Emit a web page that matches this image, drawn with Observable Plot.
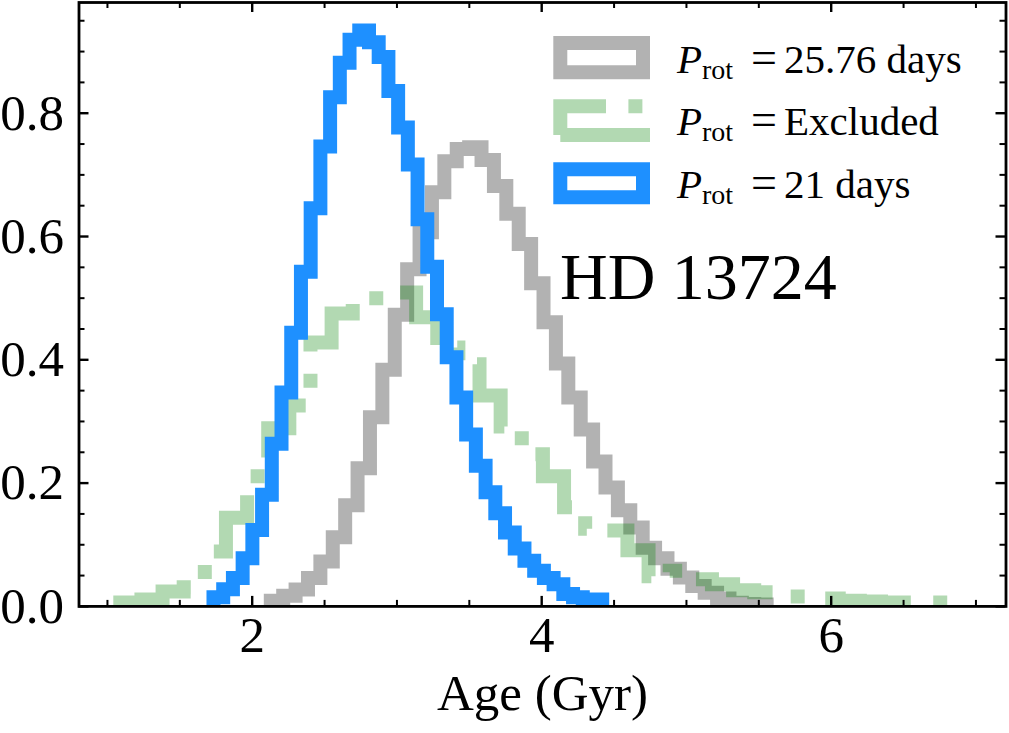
<!DOCTYPE html>
<html>
<head>
<meta charset="utf-8">
<script src="https://cdn.jsdelivr.net/npm/d3@7"></script>
<script src="https://cdn.jsdelivr.net/npm/@observablehq/plot@0.6"></script>
<style>
  html, body { margin: 0; padding: 0; background: white; }
  #wrap { position: relative; width: 1009px; height: 733px; }
  #overlay { position: absolute; left: 0; top: 0; pointer-events: none; }
  #overlay text { font-family: 'Liberation Serif', serif; fill: black; }
</style>
</head>
<body>
<div id="wrap"></div>
<script>
// ---- Data (density histograms, 40 bins each) ----
const seriesNames = ["P_rot = 25.76 days", "P_rot = Excluded", "P_rot = 21 days"];

// histogram ranges [min, max] in Gyr
const grayRange = [2.1285, 5.5541];
const greenRange = [1.0888, 6.928];
const blueRange = [1.7326, 4.418];

const grayHeights = [0.0092, 0.0174, 0.0276, 0.046, 0.073, 0.112, 0.164, 0.224, 0.307, 0.384,
  0.473, 0.547, 0.607, 0.672, 0.722, 0.742, 0.745, 0.724, 0.682, 0.637,
  0.588, 0.524, 0.461, 0.394, 0.339, 0.287, 0.235, 0.193, 0.156, 0.128,
  0.095, 0.078, 0.061, 0.047, 0.033, 0.022, 0.013, 0.006, 0.004, 0.003];

const greenHeights = [0.0065, 0.011, 0.024, 0.031, 0.089, 0.144, 0.211, 0.289, 0.326, 0.428,
  0.475, 0.50, 0.50, 0.509, 0.469, 0.42, 0.393, 0.342, 0.292, 0.247,
  0.211, 0.161, 0.126, 0.123, 0.091, 0.049, 0.058, 0.044, 0.036, 0.026,
  0.023, 0.016, 0.016, 0.013, 0.0092, 0.0081, 0.0065, 0.0065, 0.0065, 0.0065];

const blueHeights = [0.015, 0.028, 0.046, 0.078, 0.124, 0.181, 0.264, 0.347, 0.444, 0.543,
  0.646, 0.746, 0.826, 0.882, 0.919, 0.934, 0.915, 0.891, 0.836, 0.777,
  0.717, 0.628, 0.551, 0.474, 0.404, 0.339, 0.279, 0.228, 0.185, 0.151,
  0.120, 0.094, 0.074, 0.058, 0.046, 0.036, 0.020, 0.015, 0.011, 0.011];

// axis ticks
const xMajorTicks = [2, 4, 6];
const xMinorTicks = [1, 1.5, 2.5, 3, 3.5, 4.5, 5, 5.5, 6.5, 7];
const yMajorTicks = [0, 0.2, 0.4, 0.6, 0.8];
const yMinorTicks = [0.05, 0.1, 0.15, 0.25, 0.3, 0.35, 0.45, 0.5, 0.55, 0.65, 0.7, 0.75, 0.85, 0.9, 0.95];
const xLabel = "Age (Gyr)";
const starName = "HD 13724";

// ---- step outline of a histogram (matplotlib histtype='step') ----
function stepPoints(range, heights) {
  const n = heights.length, w = (range[1] - range[0]) / n;
  const pts = [{x: range[0], y: 0}];
  heights.forEach((h, i) => {
    pts.push({x: range[0] + i * w, y: h});
    pts.push({x: range[0] + (i + 1) * w, y: h});
  });
  pts.push({x: range[1], y: 0});
  return pts;
}

const W = 1009, H = 733;
const mL = 78.5, mR = 3.5, mT = 2, mB = 127.1;
const frameW = W - mL - mR, frameH = H - mT - mB;
const LW = 14;
const dashDot = `${6.4 * LW},${1.6 * LW},${LW},${1.6 * LW}`;
const common = {x: "x", y: "y", strokeWidth: LW, strokeLinejoin: "miter", strokeMiterlimit: 4, strokeLinecap: "butt", clip: true};

const chart = Plot.plot({
  width: W, height: H,
  marginLeft: mL, marginRight: mR, marginTop: mT, marginBottom: mB,
  style: {fontFamily: "'Liberation Serif', serif", fontSize: "51px", background: "white", color: "black", overflow: "visible"},
  x: {domain: [0.8035, 7.2076], ticks: xMajorTicks, tickFormat: d => String(d), tickSize: 0, tickPadding: 9, label: null},
  y: {domain: [0, 0.9796], ticks: yMajorTicks, tickFormat: d => d.toFixed(1), tickSize: 0, tickPadding: 15, label: null},
  marks: [
    Plot.line(stepPoints(grayRange, grayHeights), {...common, stroke: "black", strokeOpacity: 0.3}),
    Plot.line(stepPoints(greenRange, greenHeights), {...common, stroke: "green", strokeOpacity: 0.3, strokeDasharray: dashDot}),
    Plot.line(stepPoints(blueRange, blueHeights), {...common, stroke: "dodgerblue"}),
    // inward ticks on all four sides
    Plot.ruleX(xMajorTicks, {x: d => d, insetTop: frameH - 10, stroke: "black", strokeWidth: 2.4}),
    Plot.ruleX(xMinorTicks, {x: d => d, insetTop: frameH - 6, stroke: "black", strokeWidth: 2}),
    Plot.ruleX(xMajorTicks, {x: d => d, insetBottom: frameH - 10, stroke: "black", strokeWidth: 2.4}),
    Plot.ruleX(xMinorTicks, {x: d => d, insetBottom: frameH - 6, stroke: "black", strokeWidth: 2}),
    Plot.ruleY(yMajorTicks, {y: d => d, insetRight: frameW - 10, stroke: "black", strokeWidth: 2.4}),
    Plot.ruleY(yMinorTicks, {y: d => d, insetRight: frameW - 6, stroke: "black", strokeWidth: 2}),
    Plot.ruleY(yMajorTicks, {y: d => d, insetLeft: frameW - 10, stroke: "black", strokeWidth: 2.4}),
    Plot.ruleY(yMinorTicks, {y: d => d, insetLeft: frameW - 6, stroke: "black", strokeWidth: 2}),
    Plot.frame({stroke: "black", strokeWidth: 2.8}),
    Plot.text([xLabel], {frameAnchor: "bottom", dy: 104, fontSize: 51, fill: "black"})
  ]
});
document.getElementById("wrap").appendChild(chart);

// ---- legend and star name (overlay) ----
const ns = "http://www.w3.org/2000/svg";
const ov = document.createElementNS(ns, "svg");
ov.setAttribute("id", "overlay");
ov.setAttribute("width", W);
ov.setAttribute("height", H);
document.getElementById("wrap").appendChild(ov);

const legendItems = [
  {value: "25.76 days", stroke: "black", opacity: 0.3, dash: null, top: 43, bottom: 72.3, base: 73},
  {value: "Excluded", stroke: "green", opacity: 0.3, dash: dashDot, top: 106.3, bottom: 135, base: 135},
  {value: "21 days", stroke: "dodgerblue", opacity: 1, dash: null, top: 169.3, bottom: 197.3, base: 198}
];
legendItems.forEach(it => {
  const p = document.createElementNS(ns, "path");
  // rectangle outline traced from bottom-left, like matplotlib's legend patch
  p.setAttribute("d", it.dash
    ? `M560.3,${it.bottom}H643V${it.top}H560.3V${it.bottom}`
    : `M560.3,${it.bottom}H643V${it.top}H560.3Z`);
  p.setAttribute("fill", "none");
  p.setAttribute("stroke", it.stroke);
  p.setAttribute("stroke-opacity", it.opacity);
  p.setAttribute("stroke-width", LW);
  p.setAttribute("stroke-linejoin", "miter");
  p.setAttribute("stroke-miterlimit", 4);
  if (it.dash) p.setAttribute("stroke-dasharray", it.dash);
  ov.appendChild(p);
  const t = document.createElementNS(ns, "text");
  t.setAttribute("y", it.base);
  t.setAttribute("font-size", 41);
  t.innerHTML = `<tspan x="677" font-style="italic">P</tspan><tspan x="702" dy="6" font-size="28">rot</tspan><tspan x="751" dy="-6" font-size="46">=</tspan><tspan x="784">${it.value}</tspan>`;
  ov.appendChild(t);
});
const hd = document.createElementNS(ns, "text");
hd.setAttribute("x", 560);
hd.setAttribute("y", 299);
hd.setAttribute("font-size", 66);
hd.textContent = starName;
ov.appendChild(hd);
</script>
</body>
</html>
